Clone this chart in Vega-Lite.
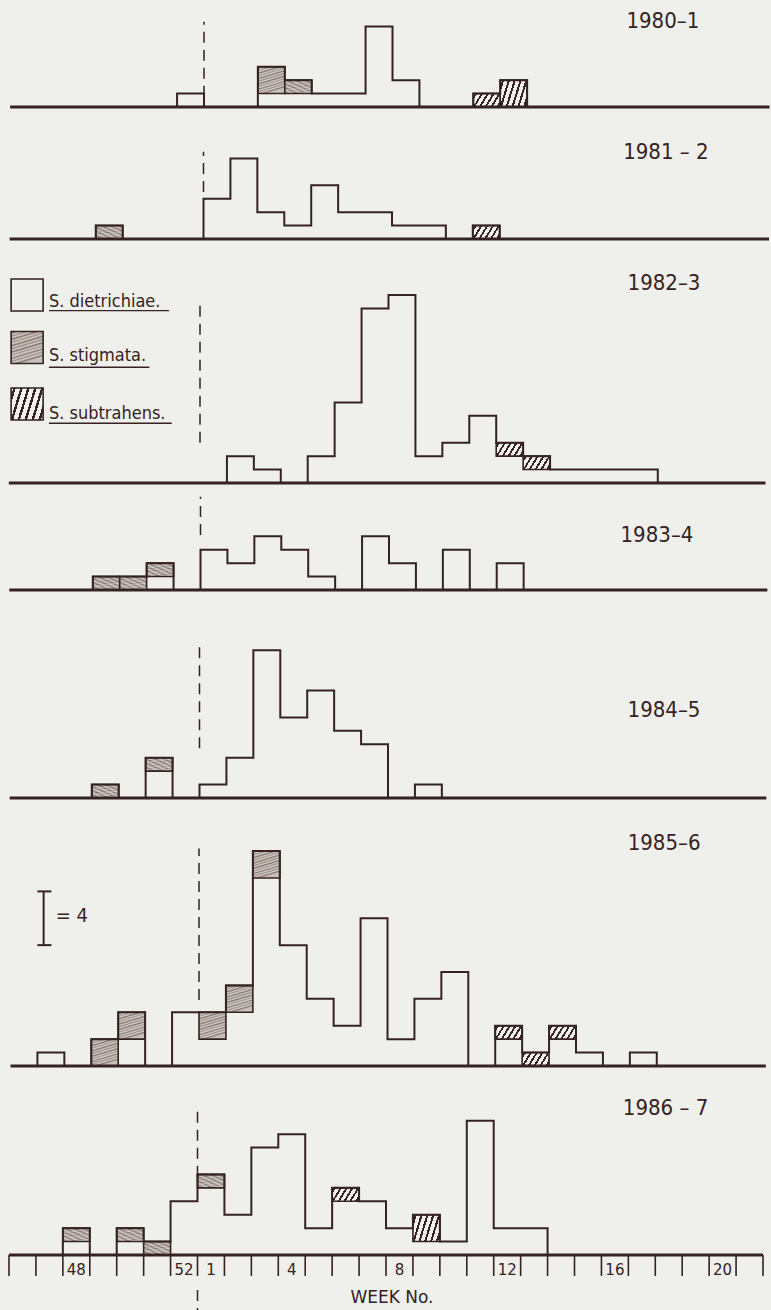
{
"$schema": "https://vega.github.io/schema/vega-lite/v6.json",
"background": "#efefec",
"padding": {"left": 7, "top": 0, "right": 3, "bottom": 0},
"bounds": "flush",
"spacing": 0,
"config": {"view": {"stroke": null}, "axis": {"disable": true}},
"datasets": {
"counts": [
{"season":"1980–1","week":52,"species":"S. dietrichiae","count":1},
{"season":"1980–1","week":3,"species":"S. dietrichiae","count":1},
{"season":"1980–1","week":3,"species":"S. stigmata","count":2},
{"season":"1980–1","week":4,"species":"S. dietrichiae","count":1},
{"season":"1980–1","week":4,"species":"S. stigmata","count":1},
{"season":"1980–1","week":5,"species":"S. dietrichiae","count":1},
{"season":"1980–1","week":6,"species":"S. dietrichiae","count":1},
{"season":"1980–1","week":7,"species":"S. dietrichiae","count":6},
{"season":"1980–1","week":8,"species":"S. dietrichiae","count":2},
{"season":"1980–1","week":11,"species":"S. subtrahens","count":1},
{"season":"1980–1","week":12,"species":"S. subtrahens","count":2},
{"season":"1981 – 2","week":49,"species":"S. stigmata","count":1},
{"season":"1981 – 2","week":1,"species":"S. dietrichiae","count":3},
{"season":"1981 – 2","week":2,"species":"S. dietrichiae","count":6},
{"season":"1981 – 2","week":3,"species":"S. dietrichiae","count":2},
{"season":"1981 – 2","week":4,"species":"S. dietrichiae","count":1},
{"season":"1981 – 2","week":5,"species":"S. dietrichiae","count":4},
{"season":"1981 – 2","week":6,"species":"S. dietrichiae","count":2},
{"season":"1981 – 2","week":7,"species":"S. dietrichiae","count":2},
{"season":"1981 – 2","week":8,"species":"S. dietrichiae","count":1},
{"season":"1981 – 2","week":9,"species":"S. dietrichiae","count":1},
{"season":"1981 – 2","week":11,"species":"S. subtrahens","count":1},
{"season":"1982–3","week":2,"species":"S. dietrichiae","count":2},
{"season":"1982–3","week":3,"species":"S. dietrichiae","count":1},
{"season":"1982–3","week":5,"species":"S. dietrichiae","count":2},
{"season":"1982–3","week":6,"species":"S. dietrichiae","count":6},
{"season":"1982–3","week":7,"species":"S. dietrichiae","count":13},
{"season":"1982–3","week":8,"species":"S. dietrichiae","count":14},
{"season":"1982–3","week":9,"species":"S. dietrichiae","count":2},
{"season":"1982–3","week":10,"species":"S. dietrichiae","count":3},
{"season":"1982–3","week":11,"species":"S. dietrichiae","count":5},
{"season":"1982–3","week":12,"species":"S. dietrichiae","count":2},
{"season":"1982–3","week":12,"species":"S. subtrahens","count":1},
{"season":"1982–3","week":13,"species":"S. dietrichiae","count":1},
{"season":"1982–3","week":13,"species":"S. subtrahens","count":1},
{"season":"1982–3","week":14,"species":"S. dietrichiae","count":1},
{"season":"1982–3","week":15,"species":"S. dietrichiae","count":1},
{"season":"1982–3","week":16,"species":"S. dietrichiae","count":1},
{"season":"1982–3","week":17,"species":"S. dietrichiae","count":1},
{"season":"1983–4","week":49,"species":"S. stigmata","count":1},
{"season":"1983–4","week":50,"species":"S. stigmata","count":1},
{"season":"1983–4","week":51,"species":"S. dietrichiae","count":1},
{"season":"1983–4","week":51,"species":"S. stigmata","count":1},
{"season":"1983–4","week":1,"species":"S. dietrichiae","count":3},
{"season":"1983–4","week":2,"species":"S. dietrichiae","count":2},
{"season":"1983–4","week":3,"species":"S. dietrichiae","count":4},
{"season":"1983–4","week":4,"species":"S. dietrichiae","count":3},
{"season":"1983–4","week":5,"species":"S. dietrichiae","count":1},
{"season":"1983–4","week":7,"species":"S. dietrichiae","count":4},
{"season":"1983–4","week":8,"species":"S. dietrichiae","count":2},
{"season":"1983–4","week":10,"species":"S. dietrichiae","count":3},
{"season":"1983–4","week":12,"species":"S. dietrichiae","count":2},
{"season":"1984–5","week":49,"species":"S. stigmata","count":1},
{"season":"1984–5","week":51,"species":"S. dietrichiae","count":2},
{"season":"1984–5","week":51,"species":"S. stigmata","count":1},
{"season":"1984–5","week":1,"species":"S. dietrichiae","count":1},
{"season":"1984–5","week":2,"species":"S. dietrichiae","count":3},
{"season":"1984–5","week":3,"species":"S. dietrichiae","count":11},
{"season":"1984–5","week":4,"species":"S. dietrichiae","count":6},
{"season":"1984–5","week":5,"species":"S. dietrichiae","count":8},
{"season":"1984–5","week":6,"species":"S. dietrichiae","count":5},
{"season":"1984–5","week":7,"species":"S. dietrichiae","count":4},
{"season":"1984–5","week":9,"species":"S. dietrichiae","count":1},
{"season":"1985–6","week":47,"species":"S. dietrichiae","count":1},
{"season":"1985–6","week":49,"species":"S. stigmata","count":2},
{"season":"1985–6","week":50,"species":"S. dietrichiae","count":2},
{"season":"1985–6","week":50,"species":"S. stigmata","count":2},
{"season":"1985–6","week":52,"species":"S. dietrichiae","count":4},
{"season":"1985–6","week":1,"species":"S. dietrichiae","count":2},
{"season":"1985–6","week":1,"species":"S. stigmata","count":2},
{"season":"1985–6","week":2,"species":"S. dietrichiae","count":4},
{"season":"1985–6","week":2,"species":"S. stigmata","count":2},
{"season":"1985–6","week":3,"species":"S. dietrichiae","count":14},
{"season":"1985–6","week":3,"species":"S. stigmata","count":2},
{"season":"1985–6","week":4,"species":"S. dietrichiae","count":9},
{"season":"1985–6","week":5,"species":"S. dietrichiae","count":5},
{"season":"1985–6","week":6,"species":"S. dietrichiae","count":3},
{"season":"1985–6","week":7,"species":"S. dietrichiae","count":11},
{"season":"1985–6","week":8,"species":"S. dietrichiae","count":2},
{"season":"1985–6","week":9,"species":"S. dietrichiae","count":5},
{"season":"1985–6","week":10,"species":"S. dietrichiae","count":7},
{"season":"1985–6","week":12,"species":"S. dietrichiae","count":2},
{"season":"1985–6","week":12,"species":"S. subtrahens","count":1},
{"season":"1985–6","week":13,"species":"S. subtrahens","count":1},
{"season":"1985–6","week":14,"species":"S. dietrichiae","count":2},
{"season":"1985–6","week":14,"species":"S. subtrahens","count":1},
{"season":"1985–6","week":15,"species":"S. dietrichiae","count":1},
{"season":"1985–6","week":17,"species":"S. dietrichiae","count":1},
{"season":"1986 – 7","week":48,"species":"S. dietrichiae","count":1},
{"season":"1986 – 7","week":48,"species":"S. stigmata","count":1},
{"season":"1986 – 7","week":50,"species":"S. dietrichiae","count":1},
{"season":"1986 – 7","week":50,"species":"S. stigmata","count":1},
{"season":"1986 – 7","week":51,"species":"S. stigmata","count":1},
{"season":"1986 – 7","week":52,"species":"S. dietrichiae","count":4},
{"season":"1986 – 7","week":1,"species":"S. dietrichiae","count":5},
{"season":"1986 – 7","week":1,"species":"S. stigmata","count":1},
{"season":"1986 – 7","week":2,"species":"S. dietrichiae","count":3},
{"season":"1986 – 7","week":3,"species":"S. dietrichiae","count":8},
{"season":"1986 – 7","week":4,"species":"S. dietrichiae","count":9},
{"season":"1986 – 7","week":5,"species":"S. dietrichiae","count":2},
{"season":"1986 – 7","week":6,"species":"S. dietrichiae","count":4},
{"season":"1986 – 7","week":6,"species":"S. subtrahens","count":1},
{"season":"1986 – 7","week":7,"species":"S. dietrichiae","count":4},
{"season":"1986 – 7","week":8,"species":"S. dietrichiae","count":2},
{"season":"1986 – 7","week":9,"species":"S. dietrichiae","count":1},
{"season":"1986 – 7","week":9,"species":"S. subtrahens","count":2},
{"season":"1986 – 7","week":10,"species":"S. dietrichiae","count":1},
{"season":"1986 – 7","week":11,"species":"S. dietrichiae","count":10},
{"season":"1986 – 7","week":12,"species":"S. dietrichiae","count":2},
{"season":"1986 – 7","week":13,"species":"S. dietrichiae","count":2}
]
},
"vconcat": [
{
"width": 754, "height": 107,
"layer": [
{"data": {"name": "counts"},
"transform": [{"filter": "datum.season === '1980–1'"},{"stack": "count","groupby": ["week"],"sort": [{"field": "species","order": "ascending"}],"as": ["y0","y1"]},{"filter": "datum.species !== 'S. dietrichiae'"}],
"mark": {"type": "bar","stroke": "#352222","strokeWidth": 1.6},
"encoding": {
"x": {"field": "week","type": "ordinal","scale": {"type": "band","domain": [46,47,48,49,50,51,52,1,2,3,4,5,6,7,8,9,10,11,12,13,14,15,16,17,18,19,20,21],"paddingInner": 0,"paddingOuter": 0,"range": [6.5,760.5]}},
"y": {"field": "y1","type": "quantitative","scale": {"domain": [0,7.967],"nice": false}},
"y2": {"field": "y0"},
"fill": {"condition": {"test": "datum.species === 'S. stigmata'","value": {"gradient":"linear","x1":0,"y1":0,"x2":0.3,"y2":1,"stops":[{"offset":0,"color":"#c9c2bd"},{"offset":0.05,"color":"#8a7f7a"},{"offset":0.09,"color":"#d3ccc7"},{"offset":0.14,"color":"#9d928d"},{"offset":0.18,"color":"#d8d2cd"},{"offset":0.23,"color":"#7d716c"},{"offset":0.27,"color":"#cdc6c1"},{"offset":0.32,"color":"#a1968f"},{"offset":0.36,"color":"#d6d0cb"},{"offset":0.41,"color":"#84786f"},{"offset":0.46,"color":"#cfc8c3"},{"offset":0.5,"color":"#958a85"},{"offset":0.55,"color":"#d9d3ce"},{"offset":0.59,"color":"#7b706b"},{"offset":0.64,"color":"#ccc5c0"},{"offset":0.68,"color":"#a39893"},{"offset":0.73,"color":"#d7d1cc"},{"offset":0.77,"color":"#877b76"},{"offset":0.82,"color":"#d2cbc6"},{"offset":0.86,"color":"#9a8f8a"},{"offset":0.91,"color":"#d9d3ce"},{"offset":0.95,"color":"#82766f"},{"offset":1,"color":"#c7c0bb"}]}},"value": {"gradient":"linear","x1":0,"y1":0,"x2":1.19,"y2":0.36,"stops":[{"offset":0,"color":"#f2f1ee"},{"offset":0.053,"color":"#f2f1ee"},{"offset":0.053,"color":"#352222"},{"offset":0.113,"color":"#352222"},{"offset":0.113,"color":"#f2f1ee"},{"offset":0.22,"color":"#f2f1ee"},{"offset":0.22,"color":"#352222"},{"offset":0.28,"color":"#352222"},{"offset":0.28,"color":"#f2f1ee"},{"offset":0.387,"color":"#f2f1ee"},{"offset":0.387,"color":"#352222"},{"offset":0.447,"color":"#352222"},{"offset":0.447,"color":"#f2f1ee"},{"offset":0.553,"color":"#f2f1ee"},{"offset":0.553,"color":"#352222"},{"offset":0.613,"color":"#352222"},{"offset":0.613,"color":"#f2f1ee"},{"offset":0.72,"color":"#f2f1ee"},{"offset":0.72,"color":"#352222"},{"offset":0.78,"color":"#352222"},{"offset":0.78,"color":"#f2f1ee"},{"offset":0.887,"color":"#f2f1ee"},{"offset":0.887,"color":"#352222"},{"offset":0.947,"color":"#352222"},{"offset":0.947,"color":"#f2f1ee"},{"offset":1,"color":"#f2f1ee"}]}}
}},
{"data": {"name": "counts"},
"transform": [{"filter": "datum.season === '1980–1'"},{"aggregate": [{"op": "sum","field": "count","as": "total"}],"groupby": ["week"]},{"impute": "total","key": "week","keyvals": [46,47,48,49,50,51,52,1,2,3,4,5,6,7,8,9,10,11,12,13,14,15,16,17,18,19,20,21],"value": 0}],
"mark": {"type": "line","interpolate": "step","stroke": "#352222","strokeWidth": 2},
"encoding": {
"x": {"field": "week","type": "ordinal","sort": [46,47,48,49,50,51,52,1,2,3,4,5,6,7,8,9,10,11,12,13,14,15,16,17,18,19,20,21],"scale": {"type": "band","domain": [46,47,48,49,50,51,52,1,2,3,4,5,6,7,8,9,10,11,12,13,14,15,16,17,18,19,20,21],"paddingInner": 0,"paddingOuter": 0,"range": [6.5,760.5]},"bandPosition": 0.5},
"y": {"field": "total","type": "quantitative","scale": {"domain": [0,7.967],"nice": false}}
}},
{"data": {"values": [{}]},
"mark": {"type": "rule","stroke": "#352222","strokeWidth": 3},
"encoding": {"x": {"datum": 46,"type": "ordinal","bandPosition": -0.2},"x2": {"datum": 21,"bandPosition": 1},"y": {"datum": 0}}},
{"data": {"values": [{}]},
"mark": {"type": "rule","stroke": "#352222","strokeWidth": 1.5,"strokeDash": [11,7]},
"encoding": {"x": {"datum": 1,"type": "ordinal","bandPosition": 0},"y": {"datum": 0.77},"y2": {"datum": 6.35}}},
{"data": {"name": "counts"},
"transform": [{"filter": "datum.season === '1980–1'"},{"aggregate": [{"op": "count","as": "n"}],"groupby": ["season"]}],
"mark": {"type": "text","font": "DejaVu Sans Condensed, Liberation Sans Narrow, DejaVu Sans","fontSize": 22,"fill": "#352222","align": "center","baseline": "middle"},
"encoding": {"text": {"field": "season"},"x": {"datum": 18,"type": "ordinal","bandPosition": 0.04},"y": {"datum": 6.43}}}
]
},
{
"width": 754, "height": 132,
"layer": [
{"data": {"name": "counts"},
"transform": [{"filter": "datum.season === '1981 – 2'"},{"stack": "count","groupby": ["week"],"sort": [{"field": "species","order": "ascending"}],"as": ["y0","y1"]},{"filter": "datum.species !== 'S. dietrichiae'"}],
"mark": {"type": "bar","stroke": "#352222","strokeWidth": 1.6},
"encoding": {
"x": {"field": "week","type": "ordinal","scale": {"type": "band","domain": [46,47,48,49,50,51,52,1,2,3,4,5,6,7,8,9,10,11,12,13,14,15,16,17,18,19,20,21],"paddingInner": 0,"paddingOuter": 0,"range": [6,760]}},
"y": {"field": "y1","type": "quantitative","scale": {"domain": [0,9.829],"nice": false}},
"y2": {"field": "y0"},
"fill": {"condition": {"test": "datum.species === 'S. stigmata'","value": {"gradient":"linear","x1":0,"y1":0,"x2":0.3,"y2":1,"stops":[{"offset":0,"color":"#c9c2bd"},{"offset":0.05,"color":"#8a7f7a"},{"offset":0.09,"color":"#d3ccc7"},{"offset":0.14,"color":"#9d928d"},{"offset":0.18,"color":"#d8d2cd"},{"offset":0.23,"color":"#7d716c"},{"offset":0.27,"color":"#cdc6c1"},{"offset":0.32,"color":"#a1968f"},{"offset":0.36,"color":"#d6d0cb"},{"offset":0.41,"color":"#84786f"},{"offset":0.46,"color":"#cfc8c3"},{"offset":0.5,"color":"#958a85"},{"offset":0.55,"color":"#d9d3ce"},{"offset":0.59,"color":"#7b706b"},{"offset":0.64,"color":"#ccc5c0"},{"offset":0.68,"color":"#a39893"},{"offset":0.73,"color":"#d7d1cc"},{"offset":0.77,"color":"#877b76"},{"offset":0.82,"color":"#d2cbc6"},{"offset":0.86,"color":"#9a8f8a"},{"offset":0.91,"color":"#d9d3ce"},{"offset":0.95,"color":"#82766f"},{"offset":1,"color":"#c7c0bb"}]}},"value": {"gradient":"linear","x1":0,"y1":0,"x2":1.19,"y2":0.36,"stops":[{"offset":0,"color":"#f2f1ee"},{"offset":0.053,"color":"#f2f1ee"},{"offset":0.053,"color":"#352222"},{"offset":0.113,"color":"#352222"},{"offset":0.113,"color":"#f2f1ee"},{"offset":0.22,"color":"#f2f1ee"},{"offset":0.22,"color":"#352222"},{"offset":0.28,"color":"#352222"},{"offset":0.28,"color":"#f2f1ee"},{"offset":0.387,"color":"#f2f1ee"},{"offset":0.387,"color":"#352222"},{"offset":0.447,"color":"#352222"},{"offset":0.447,"color":"#f2f1ee"},{"offset":0.553,"color":"#f2f1ee"},{"offset":0.553,"color":"#352222"},{"offset":0.613,"color":"#352222"},{"offset":0.613,"color":"#f2f1ee"},{"offset":0.72,"color":"#f2f1ee"},{"offset":0.72,"color":"#352222"},{"offset":0.78,"color":"#352222"},{"offset":0.78,"color":"#f2f1ee"},{"offset":0.887,"color":"#f2f1ee"},{"offset":0.887,"color":"#352222"},{"offset":0.947,"color":"#352222"},{"offset":0.947,"color":"#f2f1ee"},{"offset":1,"color":"#f2f1ee"}]}}
}},
{"data": {"name": "counts"},
"transform": [{"filter": "datum.season === '1981 – 2'"},{"aggregate": [{"op": "sum","field": "count","as": "total"}],"groupby": ["week"]},{"impute": "total","key": "week","keyvals": [46,47,48,49,50,51,52,1,2,3,4,5,6,7,8,9,10,11,12,13,14,15,16,17,18,19,20,21],"value": 0}],
"mark": {"type": "line","interpolate": "step","stroke": "#352222","strokeWidth": 2},
"encoding": {
"x": {"field": "week","type": "ordinal","sort": [46,47,48,49,50,51,52,1,2,3,4,5,6,7,8,9,10,11,12,13,14,15,16,17,18,19,20,21],"scale": {"type": "band","domain": [46,47,48,49,50,51,52,1,2,3,4,5,6,7,8,9,10,11,12,13,14,15,16,17,18,19,20,21],"paddingInner": 0,"paddingOuter": 0,"range": [6,760]},"bandPosition": 0.5},
"y": {"field": "total","type": "quantitative","scale": {"domain": [0,9.829],"nice": false}}
}},
{"data": {"values": [{}]},
"mark": {"type": "rule","stroke": "#352222","strokeWidth": 3},
"encoding": {"x": {"datum": 46,"type": "ordinal","bandPosition": -0.2},"x2": {"datum": 21,"bandPosition": 1},"y": {"datum": 0}}},
{"data": {"values": [{}]},
"mark": {"type": "rule","stroke": "#352222","strokeWidth": 1.5,"strokeDash": [11,7]},
"encoding": {"x": {"datum": 1,"type": "ordinal","bandPosition": 0},"y": {"datum": 3.5},"y2": {"datum": 6.5}}},
{"data": {"name": "counts"},
"transform": [{"filter": "datum.season === '1981 – 2'"},{"aggregate": [{"op": "count","as": "n"}],"groupby": ["season"]}],
"mark": {"type": "text","font": "DejaVu Sans Condensed, Liberation Sans Narrow, DejaVu Sans","fontSize": 22,"fill": "#352222","align": "center","baseline": "middle"},
"encoding": {"text": {"field": "season"},"x": {"datum": 18,"type": "ordinal","bandPosition": 0.17},"y": {"datum": 6.5}}}
]
},
{
"width": 754, "height": 244,
"layer": [
{"data": {"name": "counts"},
"transform": [{"filter": "datum.season === '1982–3'"},{"stack": "count","groupby": ["week"],"sort": [{"field": "species","order": "ascending"}],"as": ["y0","y1"]},{"filter": "datum.species !== 'S. dietrichiae'"}],
"mark": {"type": "bar","stroke": "#352222","strokeWidth": 1.6},
"encoding": {
"x": {"field": "week","type": "ordinal","scale": {"type": "band","domain": [46,47,48,49,50,51,52,1,2,3,4,5,6,7,8,9,10,11,12,13,14,15,16,17,18,19,20,21],"paddingInner": 0,"paddingOuter": 0,"range": [2.5,756.5]}},
"y": {"field": "y1","type": "quantitative","scale": {"domain": [0,18.168],"nice": false}},
"y2": {"field": "y0"},
"fill": {"condition": {"test": "datum.species === 'S. stigmata'","value": {"gradient":"linear","x1":0,"y1":0,"x2":0.3,"y2":1,"stops":[{"offset":0,"color":"#c9c2bd"},{"offset":0.05,"color":"#8a7f7a"},{"offset":0.09,"color":"#d3ccc7"},{"offset":0.14,"color":"#9d928d"},{"offset":0.18,"color":"#d8d2cd"},{"offset":0.23,"color":"#7d716c"},{"offset":0.27,"color":"#cdc6c1"},{"offset":0.32,"color":"#a1968f"},{"offset":0.36,"color":"#d6d0cb"},{"offset":0.41,"color":"#84786f"},{"offset":0.46,"color":"#cfc8c3"},{"offset":0.5,"color":"#958a85"},{"offset":0.55,"color":"#d9d3ce"},{"offset":0.59,"color":"#7b706b"},{"offset":0.64,"color":"#ccc5c0"},{"offset":0.68,"color":"#a39893"},{"offset":0.73,"color":"#d7d1cc"},{"offset":0.77,"color":"#877b76"},{"offset":0.82,"color":"#d2cbc6"},{"offset":0.86,"color":"#9a8f8a"},{"offset":0.91,"color":"#d9d3ce"},{"offset":0.95,"color":"#82766f"},{"offset":1,"color":"#c7c0bb"}]}},"value": {"gradient":"linear","x1":0,"y1":0,"x2":1.19,"y2":0.36,"stops":[{"offset":0,"color":"#f2f1ee"},{"offset":0.053,"color":"#f2f1ee"},{"offset":0.053,"color":"#352222"},{"offset":0.113,"color":"#352222"},{"offset":0.113,"color":"#f2f1ee"},{"offset":0.22,"color":"#f2f1ee"},{"offset":0.22,"color":"#352222"},{"offset":0.28,"color":"#352222"},{"offset":0.28,"color":"#f2f1ee"},{"offset":0.387,"color":"#f2f1ee"},{"offset":0.387,"color":"#352222"},{"offset":0.447,"color":"#352222"},{"offset":0.447,"color":"#f2f1ee"},{"offset":0.553,"color":"#f2f1ee"},{"offset":0.553,"color":"#352222"},{"offset":0.613,"color":"#352222"},{"offset":0.613,"color":"#f2f1ee"},{"offset":0.72,"color":"#f2f1ee"},{"offset":0.72,"color":"#352222"},{"offset":0.78,"color":"#352222"},{"offset":0.78,"color":"#f2f1ee"},{"offset":0.887,"color":"#f2f1ee"},{"offset":0.887,"color":"#352222"},{"offset":0.947,"color":"#352222"},{"offset":0.947,"color":"#f2f1ee"},{"offset":1,"color":"#f2f1ee"}]}}
}},
{"data": {"name": "counts"},
"transform": [{"filter": "datum.season === '1982–3'"},{"aggregate": [{"op": "sum","field": "count","as": "total"}],"groupby": ["week"]},{"impute": "total","key": "week","keyvals": [46,47,48,49,50,51,52,1,2,3,4,5,6,7,8,9,10,11,12,13,14,15,16,17,18,19,20,21],"value": 0}],
"mark": {"type": "line","interpolate": "step","stroke": "#352222","strokeWidth": 2},
"encoding": {
"x": {"field": "week","type": "ordinal","sort": [46,47,48,49,50,51,52,1,2,3,4,5,6,7,8,9,10,11,12,13,14,15,16,17,18,19,20,21],"scale": {"type": "band","domain": [46,47,48,49,50,51,52,1,2,3,4,5,6,7,8,9,10,11,12,13,14,15,16,17,18,19,20,21],"paddingInner": 0,"paddingOuter": 0,"range": [2.5,756.5]},"bandPosition": 0.5},
"y": {"field": "total","type": "quantitative","scale": {"domain": [0,18.168],"nice": false}}
}},
{"data": {"values": [{}]},
"mark": {"type": "rule","stroke": "#352222","strokeWidth": 3},
"encoding": {"x": {"datum": 46,"type": "ordinal","bandPosition": -0.1},"x2": {"datum": 21,"bandPosition": 1},"y": {"datum": 0}}},
{"data": {"values": [{}]},
"mark": {"type": "rule","stroke": "#352222","strokeWidth": 1.5,"strokeDash": [11,7]},
"encoding": {"x": {"datum": 1,"type": "ordinal","bandPosition": 0},"y": {"datum": 3.0},"y2": {"datum": 13.25}}},
{"data": {"name": "counts"},
"transform": [{"filter": "datum.season === '1982–3'"},{"aggregate": [{"op": "count","as": "n"}],"groupby": ["season"]}],
"mark": {"type": "text","font": "DejaVu Sans Condensed, Liberation Sans Narrow, DejaVu Sans","fontSize": 22,"fill": "#352222","align": "center","baseline": "middle"},
"encoding": {"text": {"field": "season"},"x": {"datum": 18,"type": "ordinal","bandPosition": 0.23},"y": {"datum": 14.87}}},
{"data": {"values": [{}]},
"mark": {"type": "square","size": 1024,"fill": "#efefec","stroke": "#352222","strokeWidth": 1.6,"opacity": 1},
"encoding": {"x": {"datum": 46,"type": "ordinal","bandPosition": 0.58},"y": {"datum": 14.0}}},
{"data": {"values": [{}]},
"mark": {"type": "square","size": 1024,"fill": {"gradient":"linear","x1":0,"y1":0,"x2":0.3,"y2":1,"stops":[{"offset":0,"color":"#c9c2bd"},{"offset":0.05,"color":"#8a7f7a"},{"offset":0.09,"color":"#d3ccc7"},{"offset":0.14,"color":"#9d928d"},{"offset":0.18,"color":"#d8d2cd"},{"offset":0.23,"color":"#7d716c"},{"offset":0.27,"color":"#cdc6c1"},{"offset":0.32,"color":"#a1968f"},{"offset":0.36,"color":"#d6d0cb"},{"offset":0.41,"color":"#84786f"},{"offset":0.46,"color":"#cfc8c3"},{"offset":0.5,"color":"#958a85"},{"offset":0.55,"color":"#d9d3ce"},{"offset":0.59,"color":"#7b706b"},{"offset":0.64,"color":"#ccc5c0"},{"offset":0.68,"color":"#a39893"},{"offset":0.73,"color":"#d7d1cc"},{"offset":0.77,"color":"#877b76"},{"offset":0.82,"color":"#d2cbc6"},{"offset":0.86,"color":"#9a8f8a"},{"offset":0.91,"color":"#d9d3ce"},{"offset":0.95,"color":"#82766f"},{"offset":1,"color":"#c7c0bb"}]},"stroke": "#352222","strokeWidth": 1.6,"opacity": 1},
"encoding": {"x": {"datum": 46,"type": "ordinal","bandPosition": 0.58},"y": {"datum": 10.09}}},
{"data": {"values": [{}]},
"mark": {"type": "square","size": 1024,"fill": {"gradient":"linear","x1":0,"y1":0,"x2":1.19,"y2":0.36,"stops":[{"offset":0,"color":"#f2f1ee"},{"offset":0.053,"color":"#f2f1ee"},{"offset":0.053,"color":"#352222"},{"offset":0.113,"color":"#352222"},{"offset":0.113,"color":"#f2f1ee"},{"offset":0.22,"color":"#f2f1ee"},{"offset":0.22,"color":"#352222"},{"offset":0.28,"color":"#352222"},{"offset":0.28,"color":"#f2f1ee"},{"offset":0.387,"color":"#f2f1ee"},{"offset":0.387,"color":"#352222"},{"offset":0.447,"color":"#352222"},{"offset":0.447,"color":"#f2f1ee"},{"offset":0.553,"color":"#f2f1ee"},{"offset":0.553,"color":"#352222"},{"offset":0.613,"color":"#352222"},{"offset":0.613,"color":"#f2f1ee"},{"offset":0.72,"color":"#f2f1ee"},{"offset":0.72,"color":"#352222"},{"offset":0.78,"color":"#352222"},{"offset":0.78,"color":"#f2f1ee"},{"offset":0.887,"color":"#f2f1ee"},{"offset":0.887,"color":"#352222"},{"offset":0.947,"color":"#352222"},{"offset":0.947,"color":"#f2f1ee"},{"offset":1,"color":"#f2f1ee"}]},"stroke": "#352222","strokeWidth": 1.6,"opacity": 1},
"encoding": {"x": {"datum": 46,"type": "ordinal","bandPosition": 0.58},"y": {"datum": 5.88}}},
{"data": {"values": [{}]},
"mark": {"type": "text","text": "S. dietrichiae.","font": "DejaVu Sans Condensed, Liberation Sans Narrow, DejaVu Sans","fontSize": 18,"fill": "#352222","align": "left","baseline": "alphabetic"},
"encoding": {"x": {"datum": 47,"type": "ordinal","bandPosition": 0.39},"y": {"datum": 13.1}}},
{"data": {"values": [{}]},
"mark": {"type": "text","text": "S. stigmata.","font": "DejaVu Sans Condensed, Liberation Sans Narrow, DejaVu Sans","fontSize": 18,"fill": "#352222","align": "left","baseline": "alphabetic"},
"encoding": {"x": {"datum": 47,"type": "ordinal","bandPosition": 0.39},"y": {"datum": 9.08}}},
{"data": {"values": [{}]},
"mark": {"type": "text","text": "S. subtrahens.","font": "DejaVu Sans Condensed, Liberation Sans Narrow, DejaVu Sans","fontSize": 18,"fill": "#352222","align": "left","baseline": "alphabetic"},
"encoding": {"x": {"datum": 47,"type": "ordinal","bandPosition": 0.39},"y": {"datum": 4.77}}},
{"data": {"values": [{}]},
"mark": {"type": "rule","stroke": "#352222","strokeWidth": 1.3},
"encoding": {"x": {"datum": 47,"type": "ordinal","bandPosition": 0.39},"x2": {"datum": 51,"bandPosition": 0.85},"y": {"datum": 12.83}}},
{"data": {"values": [{}]},
"mark": {"type": "rule","stroke": "#352222","strokeWidth": 1.3},
"encoding": {"x": {"datum": 47,"type": "ordinal","bandPosition": 0.39},"x2": {"datum": 51,"bandPosition": 0.12},"y": {"datum": 8.62}}},
{"data": {"values": [{}]},
"mark": {"type": "rule","stroke": "#352222","strokeWidth": 1.3},
"encoding": {"x": {"datum": 47,"type": "ordinal","bandPosition": 0.39},"x2": {"datum": 51,"bandPosition": 0.95},"y": {"datum": 4.45}}}
]
},
{
"width": 754, "height": 107,
"layer": [
{"data": {"name": "counts"},
"transform": [{"filter": "datum.season === '1983–4'"},{"stack": "count","groupby": ["week"],"sort": [{"field": "species","order": "ascending"}],"as": ["y0","y1"]},{"filter": "datum.species !== 'S. dietrichiae'"}],
"mark": {"type": "bar","stroke": "#352222","strokeWidth": 1.6},
"encoding": {
"x": {"field": "week","type": "ordinal","scale": {"type": "band","domain": [46,47,48,49,50,51,52,1,2,3,4,5,6,7,8,9,10,11,12,13,14,15,16,17,18,19,20,21],"paddingInner": 0,"paddingOuter": 0,"range": [3,757]}},
"y": {"field": "y1","type": "quantitative","scale": {"domain": [0,7.967],"nice": false}},
"y2": {"field": "y0"},
"fill": {"condition": {"test": "datum.species === 'S. stigmata'","value": {"gradient":"linear","x1":0,"y1":0,"x2":0.3,"y2":1,"stops":[{"offset":0,"color":"#c9c2bd"},{"offset":0.05,"color":"#8a7f7a"},{"offset":0.09,"color":"#d3ccc7"},{"offset":0.14,"color":"#9d928d"},{"offset":0.18,"color":"#d8d2cd"},{"offset":0.23,"color":"#7d716c"},{"offset":0.27,"color":"#cdc6c1"},{"offset":0.32,"color":"#a1968f"},{"offset":0.36,"color":"#d6d0cb"},{"offset":0.41,"color":"#84786f"},{"offset":0.46,"color":"#cfc8c3"},{"offset":0.5,"color":"#958a85"},{"offset":0.55,"color":"#d9d3ce"},{"offset":0.59,"color":"#7b706b"},{"offset":0.64,"color":"#ccc5c0"},{"offset":0.68,"color":"#a39893"},{"offset":0.73,"color":"#d7d1cc"},{"offset":0.77,"color":"#877b76"},{"offset":0.82,"color":"#d2cbc6"},{"offset":0.86,"color":"#9a8f8a"},{"offset":0.91,"color":"#d9d3ce"},{"offset":0.95,"color":"#82766f"},{"offset":1,"color":"#c7c0bb"}]}},"value": {"gradient":"linear","x1":0,"y1":0,"x2":1.19,"y2":0.36,"stops":[{"offset":0,"color":"#f2f1ee"},{"offset":0.053,"color":"#f2f1ee"},{"offset":0.053,"color":"#352222"},{"offset":0.113,"color":"#352222"},{"offset":0.113,"color":"#f2f1ee"},{"offset":0.22,"color":"#f2f1ee"},{"offset":0.22,"color":"#352222"},{"offset":0.28,"color":"#352222"},{"offset":0.28,"color":"#f2f1ee"},{"offset":0.387,"color":"#f2f1ee"},{"offset":0.387,"color":"#352222"},{"offset":0.447,"color":"#352222"},{"offset":0.447,"color":"#f2f1ee"},{"offset":0.553,"color":"#f2f1ee"},{"offset":0.553,"color":"#352222"},{"offset":0.613,"color":"#352222"},{"offset":0.613,"color":"#f2f1ee"},{"offset":0.72,"color":"#f2f1ee"},{"offset":0.72,"color":"#352222"},{"offset":0.78,"color":"#352222"},{"offset":0.78,"color":"#f2f1ee"},{"offset":0.887,"color":"#f2f1ee"},{"offset":0.887,"color":"#352222"},{"offset":0.947,"color":"#352222"},{"offset":0.947,"color":"#f2f1ee"},{"offset":1,"color":"#f2f1ee"}]}}
}},
{"data": {"name": "counts"},
"transform": [{"filter": "datum.season === '1983–4'"},{"aggregate": [{"op": "sum","field": "count","as": "total"}],"groupby": ["week"]},{"impute": "total","key": "week","keyvals": [46,47,48,49,50,51,52,1,2,3,4,5,6,7,8,9,10,11,12,13,14,15,16,17,18,19,20,21],"value": 0}],
"mark": {"type": "line","interpolate": "step","stroke": "#352222","strokeWidth": 2},
"encoding": {
"x": {"field": "week","type": "ordinal","sort": [46,47,48,49,50,51,52,1,2,3,4,5,6,7,8,9,10,11,12,13,14,15,16,17,18,19,20,21],"scale": {"type": "band","domain": [46,47,48,49,50,51,52,1,2,3,4,5,6,7,8,9,10,11,12,13,14,15,16,17,18,19,20,21],"paddingInner": 0,"paddingOuter": 0,"range": [3,757]},"bandPosition": 0.5},
"y": {"field": "total","type": "quantitative","scale": {"domain": [0,7.967],"nice": false}}
}},
{"data": {"values": [{}]},
"mark": {"type": "rule","stroke": "#352222","strokeWidth": 3},
"encoding": {"x": {"datum": 46,"type": "ordinal","bandPosition": -0.1},"x2": {"datum": 21,"bandPosition": 1.05},"y": {"datum": 0}}},
{"data": {"values": [{}]},
"mark": {"type": "rule","stroke": "#352222","strokeWidth": 1.5,"strokeDash": [11,7]},
"encoding": {"x": {"datum": 1,"type": "ordinal","bandPosition": 0},"y": {"datum": 4.1},"y2": {"datum": 6.95}}},
{"data": {"name": "counts"},
"transform": [{"filter": "datum.season === '1983–4'"},{"aggregate": [{"op": "count","as": "n"}],"groupby": ["season"]}],
"mark": {"type": "text","font": "DejaVu Sans Condensed, Liberation Sans Narrow, DejaVu Sans","fontSize": 22,"fill": "#352222","align": "center","baseline": "middle"},
"encoding": {"text": {"field": "season"},"x": {"datum": 17,"type": "ordinal","bandPosition": 0.95},"y": {"datum": 4.1}}}
]
},
{
"width": 754, "height": 208,
"layer": [
{"data": {"name": "counts"},
"transform": [{"filter": "datum.season === '1984–5'"},{"stack": "count","groupby": ["week"],"sort": [{"field": "species","order": "ascending"}],"as": ["y0","y1"]},{"filter": "datum.species !== 'S. dietrichiae'"}],
"mark": {"type": "bar","stroke": "#352222","strokeWidth": 1.6},
"encoding": {
"x": {"field": "week","type": "ordinal","scale": {"type": "band","domain": [46,47,48,49,50,51,52,1,2,3,4,5,6,7,8,9,10,11,12,13,14,15,16,17,18,19,20,21],"paddingInner": 0,"paddingOuter": 0,"range": [2,756]}},
"y": {"field": "y1","type": "quantitative","scale": {"domain": [0,15.488],"nice": false}},
"y2": {"field": "y0"},
"fill": {"condition": {"test": "datum.species === 'S. stigmata'","value": {"gradient":"linear","x1":0,"y1":0,"x2":0.3,"y2":1,"stops":[{"offset":0,"color":"#c9c2bd"},{"offset":0.05,"color":"#8a7f7a"},{"offset":0.09,"color":"#d3ccc7"},{"offset":0.14,"color":"#9d928d"},{"offset":0.18,"color":"#d8d2cd"},{"offset":0.23,"color":"#7d716c"},{"offset":0.27,"color":"#cdc6c1"},{"offset":0.32,"color":"#a1968f"},{"offset":0.36,"color":"#d6d0cb"},{"offset":0.41,"color":"#84786f"},{"offset":0.46,"color":"#cfc8c3"},{"offset":0.5,"color":"#958a85"},{"offset":0.55,"color":"#d9d3ce"},{"offset":0.59,"color":"#7b706b"},{"offset":0.64,"color":"#ccc5c0"},{"offset":0.68,"color":"#a39893"},{"offset":0.73,"color":"#d7d1cc"},{"offset":0.77,"color":"#877b76"},{"offset":0.82,"color":"#d2cbc6"},{"offset":0.86,"color":"#9a8f8a"},{"offset":0.91,"color":"#d9d3ce"},{"offset":0.95,"color":"#82766f"},{"offset":1,"color":"#c7c0bb"}]}},"value": {"gradient":"linear","x1":0,"y1":0,"x2":1.19,"y2":0.36,"stops":[{"offset":0,"color":"#f2f1ee"},{"offset":0.053,"color":"#f2f1ee"},{"offset":0.053,"color":"#352222"},{"offset":0.113,"color":"#352222"},{"offset":0.113,"color":"#f2f1ee"},{"offset":0.22,"color":"#f2f1ee"},{"offset":0.22,"color":"#352222"},{"offset":0.28,"color":"#352222"},{"offset":0.28,"color":"#f2f1ee"},{"offset":0.387,"color":"#f2f1ee"},{"offset":0.387,"color":"#352222"},{"offset":0.447,"color":"#352222"},{"offset":0.447,"color":"#f2f1ee"},{"offset":0.553,"color":"#f2f1ee"},{"offset":0.553,"color":"#352222"},{"offset":0.613,"color":"#352222"},{"offset":0.613,"color":"#f2f1ee"},{"offset":0.72,"color":"#f2f1ee"},{"offset":0.72,"color":"#352222"},{"offset":0.78,"color":"#352222"},{"offset":0.78,"color":"#f2f1ee"},{"offset":0.887,"color":"#f2f1ee"},{"offset":0.887,"color":"#352222"},{"offset":0.947,"color":"#352222"},{"offset":0.947,"color":"#f2f1ee"},{"offset":1,"color":"#f2f1ee"}]}}
}},
{"data": {"name": "counts"},
"transform": [{"filter": "datum.season === '1984–5'"},{"aggregate": [{"op": "sum","field": "count","as": "total"}],"groupby": ["week"]},{"impute": "total","key": "week","keyvals": [46,47,48,49,50,51,52,1,2,3,4,5,6,7,8,9,10,11,12,13,14,15,16,17,18,19,20,21],"value": 0}],
"mark": {"type": "line","interpolate": "step","stroke": "#352222","strokeWidth": 2},
"encoding": {
"x": {"field": "week","type": "ordinal","sort": [46,47,48,49,50,51,52,1,2,3,4,5,6,7,8,9,10,11,12,13,14,15,16,17,18,19,20,21],"scale": {"type": "band","domain": [46,47,48,49,50,51,52,1,2,3,4,5,6,7,8,9,10,11,12,13,14,15,16,17,18,19,20,21],"paddingInner": 0,"paddingOuter": 0,"range": [2,756]},"bandPosition": 0.5},
"y": {"field": "total","type": "quantitative","scale": {"domain": [0,15.488],"nice": false}}
}},
{"data": {"values": [{}]},
"mark": {"type": "rule","stroke": "#352222","strokeWidth": 3},
"encoding": {"x": {"datum": 46,"type": "ordinal","bandPosition": -0.05},"x2": {"datum": 21,"bandPosition": 1.05},"y": {"datum": 0}}},
{"data": {"values": [{}]},
"mark": {"type": "rule","stroke": "#352222","strokeWidth": 1.5,"strokeDash": [11,7]},
"encoding": {"x": {"datum": 1,"type": "ordinal","bandPosition": 0},"y": {"datum": 3.7},"y2": {"datum": 11.4}}},
{"data": {"name": "counts"},
"transform": [{"filter": "datum.season === '1984–5'"},{"aggregate": [{"op": "count","as": "n"}],"groupby": ["season"]}],
"mark": {"type": "text","font": "DejaVu Sans Condensed, Liberation Sans Narrow, DejaVu Sans","fontSize": 22,"fill": "#352222","align": "center","baseline": "middle"},
"encoding": {"text": {"field": "season"},"x": {"datum": 18,"type": "ordinal","bandPosition": 0.25},"y": {"datum": 6.55}}}
]
},
{
"width": 754, "height": 268,
"layer": [
{"data": {"name": "counts"},
"transform": [{"filter": "datum.season === '1985–6'"},{"stack": "count","groupby": ["week"],"sort": [{"field": "species","order": "ascending"}],"as": ["y0","y1"]},{"filter": "datum.species !== 'S. dietrichiae'"}],
"mark": {"type": "bar","stroke": "#352222","strokeWidth": 1.6},
"encoding": {
"x": {"field": "week","type": "ordinal","scale": {"type": "band","domain": [46,47,48,49,50,51,52,1,2,3,4,5,6,7,8,9,10,11,12,13,14,15,16,17,18,19,20,21],"paddingInner": 0,"paddingOuter": 0,"range": [1.5,755.5]}},
"y": {"field": "y1","type": "quantitative","scale": {"domain": [0,19.955],"nice": false}},
"y2": {"field": "y0"},
"fill": {"condition": {"test": "datum.species === 'S. stigmata'","value": {"gradient":"linear","x1":0,"y1":0,"x2":0.3,"y2":1,"stops":[{"offset":0,"color":"#c9c2bd"},{"offset":0.05,"color":"#8a7f7a"},{"offset":0.09,"color":"#d3ccc7"},{"offset":0.14,"color":"#9d928d"},{"offset":0.18,"color":"#d8d2cd"},{"offset":0.23,"color":"#7d716c"},{"offset":0.27,"color":"#cdc6c1"},{"offset":0.32,"color":"#a1968f"},{"offset":0.36,"color":"#d6d0cb"},{"offset":0.41,"color":"#84786f"},{"offset":0.46,"color":"#cfc8c3"},{"offset":0.5,"color":"#958a85"},{"offset":0.55,"color":"#d9d3ce"},{"offset":0.59,"color":"#7b706b"},{"offset":0.64,"color":"#ccc5c0"},{"offset":0.68,"color":"#a39893"},{"offset":0.73,"color":"#d7d1cc"},{"offset":0.77,"color":"#877b76"},{"offset":0.82,"color":"#d2cbc6"},{"offset":0.86,"color":"#9a8f8a"},{"offset":0.91,"color":"#d9d3ce"},{"offset":0.95,"color":"#82766f"},{"offset":1,"color":"#c7c0bb"}]}},"value": {"gradient":"linear","x1":0,"y1":0,"x2":1.19,"y2":0.36,"stops":[{"offset":0,"color":"#f2f1ee"},{"offset":0.053,"color":"#f2f1ee"},{"offset":0.053,"color":"#352222"},{"offset":0.113,"color":"#352222"},{"offset":0.113,"color":"#f2f1ee"},{"offset":0.22,"color":"#f2f1ee"},{"offset":0.22,"color":"#352222"},{"offset":0.28,"color":"#352222"},{"offset":0.28,"color":"#f2f1ee"},{"offset":0.387,"color":"#f2f1ee"},{"offset":0.387,"color":"#352222"},{"offset":0.447,"color":"#352222"},{"offset":0.447,"color":"#f2f1ee"},{"offset":0.553,"color":"#f2f1ee"},{"offset":0.553,"color":"#352222"},{"offset":0.613,"color":"#352222"},{"offset":0.613,"color":"#f2f1ee"},{"offset":0.72,"color":"#f2f1ee"},{"offset":0.72,"color":"#352222"},{"offset":0.78,"color":"#352222"},{"offset":0.78,"color":"#f2f1ee"},{"offset":0.887,"color":"#f2f1ee"},{"offset":0.887,"color":"#352222"},{"offset":0.947,"color":"#352222"},{"offset":0.947,"color":"#f2f1ee"},{"offset":1,"color":"#f2f1ee"}]}}
}},
{"data": {"name": "counts"},
"transform": [{"filter": "datum.season === '1985–6'"},{"aggregate": [{"op": "sum","field": "count","as": "total"}],"groupby": ["week"]},{"impute": "total","key": "week","keyvals": [46,47,48,49,50,51,52,1,2,3,4,5,6,7,8,9,10,11,12,13,14,15,16,17,18,19,20,21],"value": 0}],
"mark": {"type": "line","interpolate": "step","stroke": "#352222","strokeWidth": 2},
"encoding": {
"x": {"field": "week","type": "ordinal","sort": [46,47,48,49,50,51,52,1,2,3,4,5,6,7,8,9,10,11,12,13,14,15,16,17,18,19,20,21],"scale": {"type": "band","domain": [46,47,48,49,50,51,52,1,2,3,4,5,6,7,8,9,10,11,12,13,14,15,16,17,18,19,20,21],"paddingInner": 0,"paddingOuter": 0,"range": [1.5,755.5]},"bandPosition": 0.5},
"y": {"field": "total","type": "quantitative","scale": {"domain": [0,19.955],"nice": false}}
}},
{"data": {"values": [{}]},
"mark": {"type": "rule","stroke": "#352222","strokeWidth": 3},
"encoding": {"x": {"datum": 46,"type": "ordinal","bandPosition": 0},"x2": {"datum": 21,"bandPosition": 1.05},"y": {"datum": 0}}},
{"data": {"values": [{}]},
"mark": {"type": "rule","stroke": "#352222","strokeWidth": 1.5,"strokeDash": [11,7]},
"encoding": {"x": {"datum": 1,"type": "ordinal","bandPosition": 0},"y": {"datum": 4.91},"y2": {"datum": 16.2}}},
{"data": {"name": "counts"},
"transform": [{"filter": "datum.season === '1985–6'"},{"aggregate": [{"op": "count","as": "n"}],"groupby": ["season"]}],
"mark": {"type": "text","font": "DejaVu Sans Condensed, Liberation Sans Narrow, DejaVu Sans","fontSize": 22,"fill": "#352222","align": "center","baseline": "middle"},
"encoding": {"text": {"field": "season"},"x": {"datum": 18,"type": "ordinal","bandPosition": 0.27},"y": {"datum": 16.58}}},
{"data": {"values": [{}]},
"mark": {"type": "rule","stroke": "#352222","strokeWidth": 2},
"encoding": {"x": {"datum": 47,"type": "ordinal","bandPosition": 0.23},"y": {"datum": 9},"y2": {"datum": 13}}},
{"data": {"values": [{}]},
"mark": {"type": "rule","stroke": "#352222","strokeWidth": 2},
"encoding": {"x": {"datum": 47,"type": "ordinal","bandPosition": 0},"x2": {"datum": 47,"bandPosition": 0.52},"y": {"datum": 9}}},
{"data": {"values": [{}]},
"mark": {"type": "rule","stroke": "#352222","strokeWidth": 2},
"encoding": {"x": {"datum": 47,"type": "ordinal","bandPosition": 0},"x2": {"datum": 47,"bandPosition": 0.52},"y": {"datum": 13}}},
{"data": {"values": [{}]},
"mark": {"type": "text","text": "= 4","font": "DejaVu Sans Condensed, Liberation Sans Narrow, DejaVu Sans","fontSize": 20,"fill": "#352222","align": "left","baseline": "middle"},
"encoding": {"x": {"datum": 47,"type": "ordinal","bandPosition": 0.68},"y": {"datum": 11.17}}}
]
},
{
"width": 754, "height": 189,
"layer": [
{"data": {"name": "counts"},
"transform": [{"filter": "datum.season === '1986 – 7'"},{"stack": "count","groupby": ["week"],"sort": [{"field": "species","order": "ascending"}],"as": ["y0","y1"]},{"filter": "datum.species !== 'S. dietrichiae'"}],
"mark": {"type": "bar","stroke": "#352222","strokeWidth": 1.6},
"encoding": {
"x": {"field": "week","type": "ordinal","scale": {"type": "band","domain": [46,47,48,49,50,51,52,1,2,3,4,5,6,7,8,9,10,11,12,13,14,15,16,17,18,19,20,21],"paddingInner": 0,"paddingOuter": 0}},
"y": {"field": "y1","type": "quantitative","scale": {"domain": [0,14.073],"nice": false}},
"y2": {"field": "y0"},
"fill": {"condition": {"test": "datum.species === 'S. stigmata'","value": {"gradient":"linear","x1":0,"y1":0,"x2":0.3,"y2":1,"stops":[{"offset":0,"color":"#c9c2bd"},{"offset":0.05,"color":"#8a7f7a"},{"offset":0.09,"color":"#d3ccc7"},{"offset":0.14,"color":"#9d928d"},{"offset":0.18,"color":"#d8d2cd"},{"offset":0.23,"color":"#7d716c"},{"offset":0.27,"color":"#cdc6c1"},{"offset":0.32,"color":"#a1968f"},{"offset":0.36,"color":"#d6d0cb"},{"offset":0.41,"color":"#84786f"},{"offset":0.46,"color":"#cfc8c3"},{"offset":0.5,"color":"#958a85"},{"offset":0.55,"color":"#d9d3ce"},{"offset":0.59,"color":"#7b706b"},{"offset":0.64,"color":"#ccc5c0"},{"offset":0.68,"color":"#a39893"},{"offset":0.73,"color":"#d7d1cc"},{"offset":0.77,"color":"#877b76"},{"offset":0.82,"color":"#d2cbc6"},{"offset":0.86,"color":"#9a8f8a"},{"offset":0.91,"color":"#d9d3ce"},{"offset":0.95,"color":"#82766f"},{"offset":1,"color":"#c7c0bb"}]}},"value": {"gradient":"linear","x1":0,"y1":0,"x2":1.19,"y2":0.36,"stops":[{"offset":0,"color":"#f2f1ee"},{"offset":0.053,"color":"#f2f1ee"},{"offset":0.053,"color":"#352222"},{"offset":0.113,"color":"#352222"},{"offset":0.113,"color":"#f2f1ee"},{"offset":0.22,"color":"#f2f1ee"},{"offset":0.22,"color":"#352222"},{"offset":0.28,"color":"#352222"},{"offset":0.28,"color":"#f2f1ee"},{"offset":0.387,"color":"#f2f1ee"},{"offset":0.387,"color":"#352222"},{"offset":0.447,"color":"#352222"},{"offset":0.447,"color":"#f2f1ee"},{"offset":0.553,"color":"#f2f1ee"},{"offset":0.553,"color":"#352222"},{"offset":0.613,"color":"#352222"},{"offset":0.613,"color":"#f2f1ee"},{"offset":0.72,"color":"#f2f1ee"},{"offset":0.72,"color":"#352222"},{"offset":0.78,"color":"#352222"},{"offset":0.78,"color":"#f2f1ee"},{"offset":0.887,"color":"#f2f1ee"},{"offset":0.887,"color":"#352222"},{"offset":0.947,"color":"#352222"},{"offset":0.947,"color":"#f2f1ee"},{"offset":1,"color":"#f2f1ee"}]}}
}},
{"data": {"name": "counts"},
"transform": [{"filter": "datum.season === '1986 – 7'"},{"aggregate": [{"op": "sum","field": "count","as": "total"}],"groupby": ["week"]},{"impute": "total","key": "week","keyvals": [46,47,48,49,50,51,52,1,2,3,4,5,6,7,8,9,10,11,12,13,14,15,16,17,18,19,20,21],"value": 0}],
"mark": {"type": "line","interpolate": "step","stroke": "#352222","strokeWidth": 2},
"encoding": {
"x": {"field": "week","type": "ordinal","sort": [46,47,48,49,50,51,52,1,2,3,4,5,6,7,8,9,10,11,12,13,14,15,16,17,18,19,20,21],"scale": {"type": "band","domain": [46,47,48,49,50,51,52,1,2,3,4,5,6,7,8,9,10,11,12,13,14,15,16,17,18,19,20,21],"paddingInner": 0,"paddingOuter": 0},"bandPosition": 0.5},
"y": {"field": "total","type": "quantitative","scale": {"domain": [0,14.073],"nice": false}}
}},
{"data": {"values": [{}]},
"mark": {"type": "rule","stroke": "#352222","strokeWidth": 3},
"encoding": {"x": {"datum": 46,"type": "ordinal","bandPosition": 0},"x2": {"datum": 21,"bandPosition": 1},"y": {"datum": 0}}},
{"data": {"name": "counts"},
"transform": [{"filter": "datum.season === '1986 – 7'"},{"aggregate": [{"op": "sum","field": "count","as": "total"}],"groupby": ["week"]},{"impute": "total","key": "week","keyvals": [46,47,48,49,50,51,52,1,2,3,4,5,6,7,8,9,10,11,12,13,14,15,16,17,18,19,20,21],"value": 0}],
"mark": {"type": "rule","stroke": "#352222","strokeWidth": 1.6},
"encoding": {"x": {"field": "week","type": "ordinal","bandPosition": 0},"y": {"datum": 0},"y2": {"datum": -1.56}}},
{"data": {"values": [{}]},
"mark": {"type": "rule","stroke": "#352222","strokeWidth": 1.6},
"encoding": {"x": {"datum": 21,"type": "ordinal","bandPosition": 1},"y": {"datum": 0},"y2": {"datum": -1.56}}},
{"data": {"name": "counts"},
"transform": [{"filter": "datum.season === '1986 – 7'"},{"aggregate": [{"op": "sum","field": "count","as": "total"}],"groupby": ["week"]},{"impute": "total","key": "week","keyvals": [46,47,48,49,50,51,52,1,2,3,4,5,6,7,8,9,10,11,12,13,14,15,16,17,18,19,20,21],"value": 0},{"filter": "indexof([48,52,1,4,8,12,16,20], datum.week) >= 0"}],
"mark": {"type": "text","font": "DejaVu Sans","fontSize": 15,"fill": "#352222","align": "center","baseline": "middle"},
"encoding": {"x": {"field": "week","type": "ordinal","bandPosition": 0.5},"y": {"datum": -1.15},"text": {"field": "week","type": "nominal"}}},
{"data": {"values": [{}]},
"mark": {"type": "text","text": "WEEK No.","font": "DejaVu Sans","fontSize": 17,"fill": "#352222","align": "center","baseline": "middle"},
"encoding": {"x": {"datum": 8,"type": "ordinal","bandPosition": 0.22},"y": {"datum": -3.2}}},
{"data": {"values": [{}]},
"mark": {"type": "rule","stroke": "#352222","strokeWidth": 1.5,"strokeDash": [11,7]},
"encoding": {"x": {"datum": 1,"type": "ordinal","bandPosition": 0},"y": {"datum": 5.83},"y2": {"datum": 11.04}}},
{"data": {"values": [{}]},
"mark": {"type": "rule","stroke": "#352222","strokeWidth": 1.5,"strokeDash": [11,7]},
"encoding": {"x": {"datum": 1,"type": "ordinal","bandPosition": 0},"y": {"datum": -2.6},"y2": {"datum": -4.1}}},
{"data": {"name": "counts"},
"transform": [{"filter": "datum.season === '1986 – 7'"},{"aggregate": [{"op": "count","as": "n"}],"groupby": ["season"]}],
"mark": {"type": "text","font": "DejaVu Sans Condensed, Liberation Sans Narrow, DejaVu Sans","fontSize": 22,"fill": "#352222","align": "center","baseline": "middle"},
"encoding": {"text": {"field": "season"},"x": {"datum": 18,"type": "ordinal","bandPosition": 0.38},"y": {"datum": 10.92}}}
]
}
]
}
